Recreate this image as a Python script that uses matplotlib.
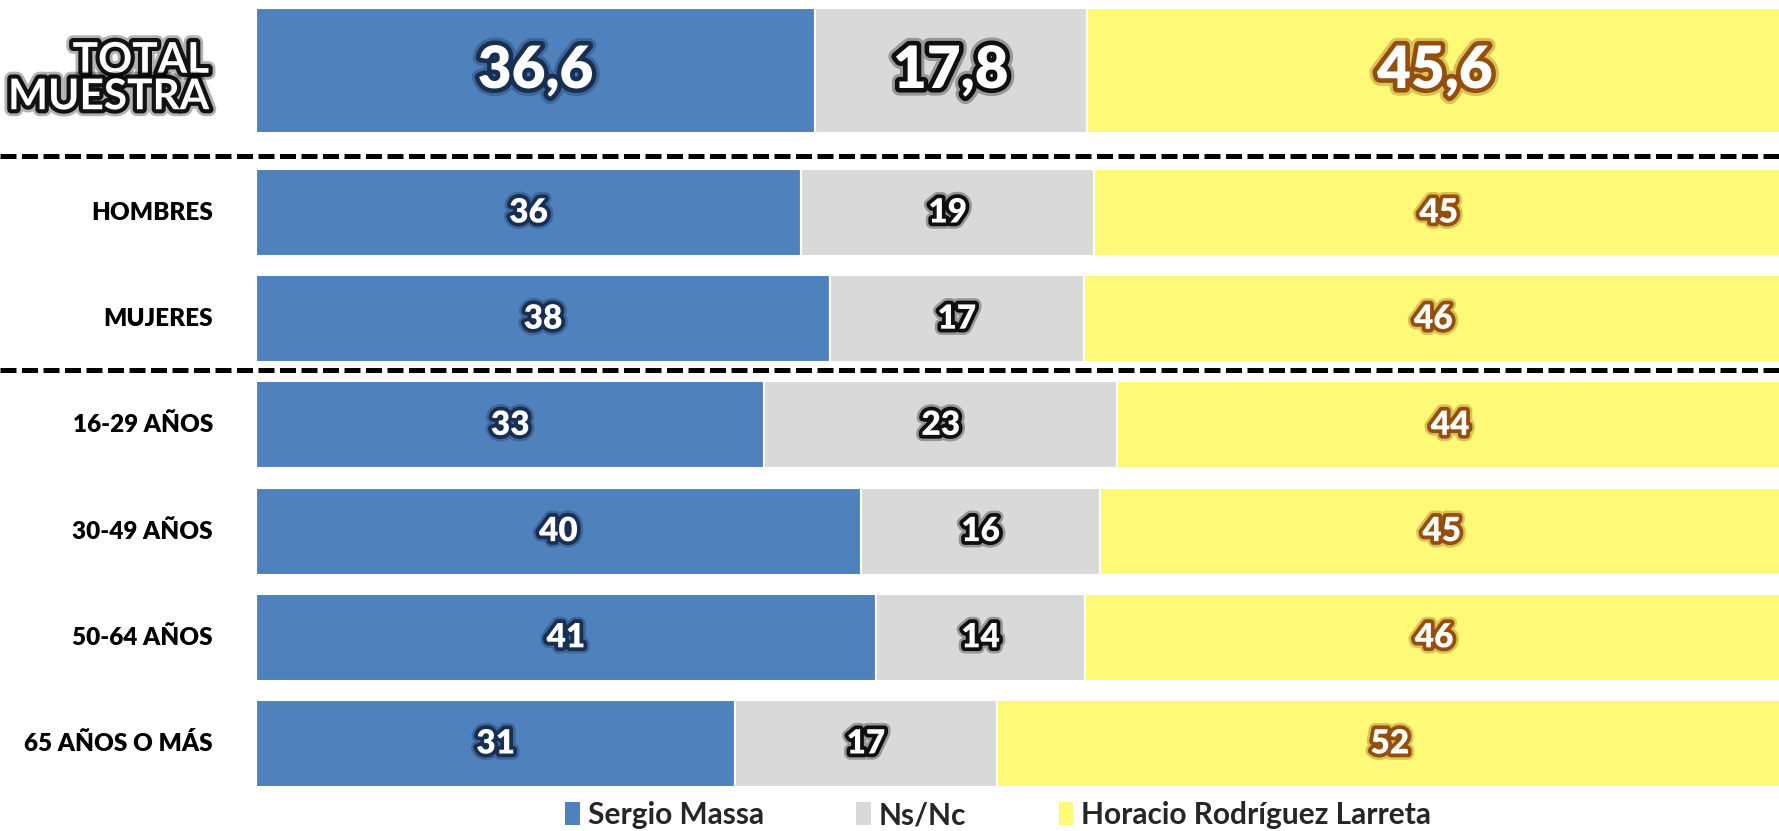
import matplotlib
matplotlib.use('Agg')
import matplotlib.pyplot as plt
import matplotlib.patheffects as pe
from matplotlib.patches import Patch
from matplotlib.lines import Line2D

# data
series = ['Sergio Massa', 'Ns/Nc', 'Horacio Rodríguez Larreta']
total_label = 'TOTAL\nMUESTRA'
total_values = [36.6, 17.8, 45.6]
total_text = ['36,6', '17,8', '45,6']

groups = ['HOMBRES', 'MUJERES', '16-29 AÑOS', '30-49 AÑOS', '50-64 AÑOS', '65 AÑOS O MÁS']
# bar lengths as measured (labels are rounded)
massa = [35.7, 37.6, 33.3, 39.6, 40.6, 31.4]
nsnc = [19.2, 16.6, 23.1, 15.7, 13.7, 17.1]
larreta = [45.1, 45.8, 43.6, 44.7, 45.7, 51.5]
massa_lbl = ['36', '38', '33', '40', '41', '31']
nsnc_lbl = ['19', '17', '23', '16', '14', '17']
larreta_lbl = ['45', '46', '44', '45', '46', '52']

colors = ['#4F81BD', '#D9D9D9', '#FFF978']
glows = ['#14284A', '#000000', '#8C4207']

plt.rcParams['font.family'] = ['Lato', 'DejaVu Sans']

W, H = 1779, 831
fig = plt.figure(figsize=(W / 100, H / 100), dpi=100)

left = 256 / W
xmax = (W - 256) / 15.27


def glow(color, w=9):
    return [pe.withStroke(linewidth=w, foreground=color, alpha=0.3),
            pe.withStroke(linewidth=w * 0.6, foreground=color, alpha=0.9)]


def stacked(ax, ypos, cols, labels, height, size, w):
    starts = [0] * len(ypos)
    for k, vals in enumerate(cols):
        ax.barh(ypos, vals, left=starts, height=height, color=colors[k],
                edgecolor='white', linewidth=1.5)
        for y, s, v, t in zip(ypos, starts, vals, labels[k]):
            ax.text(s + v / 2, y, t, ha='center', va='center', color='white',
                    fontsize=size, fontweight='heavy', path_effects=glow(glows[k], w))
        starts = [s + v for s, v in zip(starts, vals)]


# top block: total
ax1 = fig.add_axes([left, 1 - 133 / H, 1 - left, 125 / H])
stacked(ax1, [0], [[v] for v in total_values], [[t] for t in total_text], 1.0, 42, 11)
ax1.set_xlim(0, xmax)
ax1.set_ylim(-0.5, 0.5)
ax1.axis('off')
fig.text(209 / W, 1 - 79 / H, total_label, ha='right', va='center', multialignment='right',
         fontsize=30.5, fontweight='bold', color='white', linespacing=0.95,
         path_effects=glow('black', 10))

# lower block: groups
ax2 = fig.add_axes([left, 1 - 796.6 / H, 1 - left, 637.2 / H])
ypos = list(range(len(groups)))
stacked(ax2, ypos, [massa, nsnc, larreta], [massa_lbl, nsnc_lbl, larreta_lbl],
        0.82, 24, 9)
ax2.set_xlim(0, xmax)
ax2.set_ylim(len(groups) - 0.5, -0.5)
ax2.axis('off')
for y, g in zip(ypos, groups):
    ax2.text(-43 / 15.27, y, g, ha='right', va='center', fontsize=17.5,
             fontweight='heavy', color='black')

# dashed separators
for yy in [155.5, 369.5]:
    fig.add_artist(Line2D([0, 1], [1 - yy / H, 1 - yy / H], transform=fig.transFigure,
                          color='black', linewidth=3.6, dashes=(3.2, 1.1)))

# legend
handles = [Patch(facecolor=c, edgecolor='none') for c in colors]
leg = fig.legend(handles, series, loc='center', bbox_to_anchor=(0.561, 1 - 815 / H),
                 ncol=3, frameon=False, handlelength=0.5, handleheight=0.8,
                 handletextpad=0.25, columnspacing=3.1,
                 prop={'size': 21.5, 'weight': 'bold'})
for t in leg.get_texts():
    t.set_color('#262626')

fig.savefig('out.png', dpi=100)
